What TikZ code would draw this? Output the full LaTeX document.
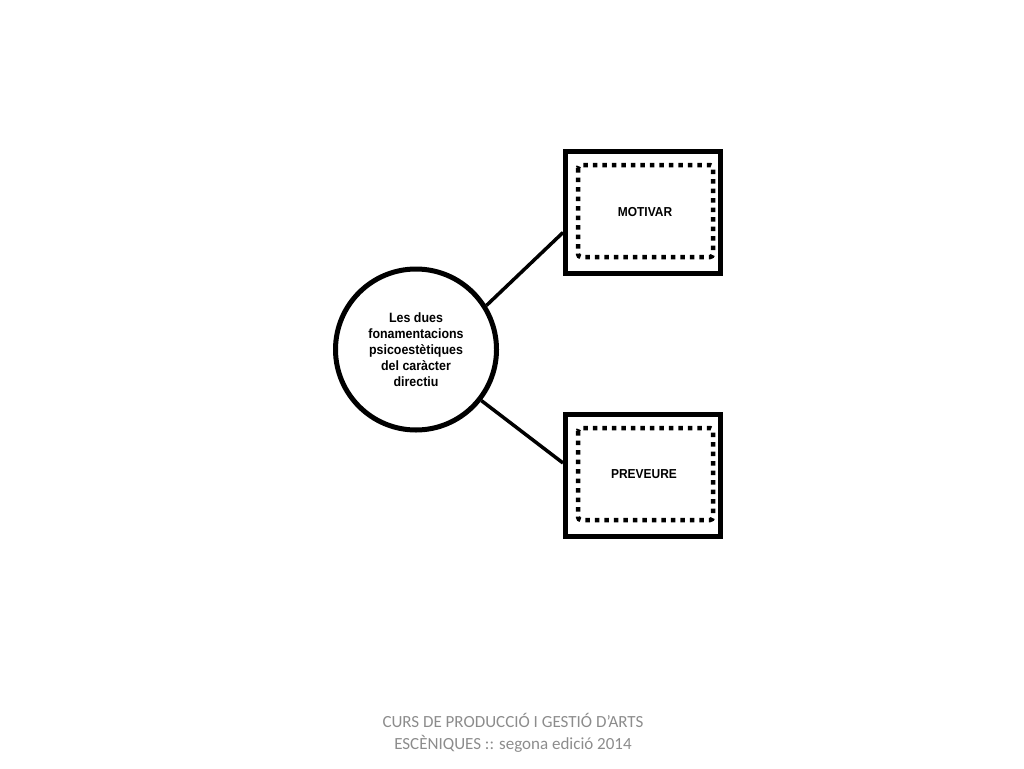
\documentclass[tikz,border=0pt]{standalone}
\usepackage{fontspec}
\setmainfont{Liberation Sans}
\newfontfamily\boxfont[FakeStretch=0.92]{Liberation Sans Bold}
\newfontfamily\footfont{Carlito}
\begin{document}
\begin{tikzpicture}[x=1pt,y=-1pt,
  outerbox/.style={draw,line width=5pt,minimum width=155pt,minimum height=122pt,inner sep=0pt},
  innerbox/.style={draw,line width=4.5pt,dash pattern=on 4.5pt off 5pt,rounded corners=3pt},
  circ/.style={draw,circle,line width=5pt,minimum size=161pt,inner sep=0pt,align=center,font=\boxfont\fontsize{13.5}{16}\selectfont},
  conn/.style={line width=3.5pt},
  lbl/.style={font=\boxfont\fontsize{13}{15}\selectfont},
  foot/.style={text=black!45,align=center,font=\footfont\fontsize{17}{22.5}\selectfont}]
\useasboundingbox (0,0) rectangle (1024,768);
\node[circ] (c) at (416,349.5) {Les dues\\fonamentacions\\psicoestètiques\\del caràcter\\directiu};
\node[outerbox] (m) at (643,212.5) {};
\node[outerbox] (p) at (643,475) {};
\draw[innerbox] (578,165) rectangle (713,257);
\draw[innerbox] (578,428) rectangle (713,520);
\node[lbl] (mt) at (645,212) {MOTIVAR};
\node[lbl] (pt) at (644,474) {PREVEURE};
\draw[conn] (c.32) -- ([yshift=-20pt]m.west);
\draw[conn] (c.-38) -- ([yshift=12pt]p.west);
\node[foot] (f) at (513,733) {CURS DE PRODUCCIÓ I GESTIÓ D’ARTS\\ESCÈNIQUES :: segona edició 2014};
\end{tikzpicture}
\end{document}
